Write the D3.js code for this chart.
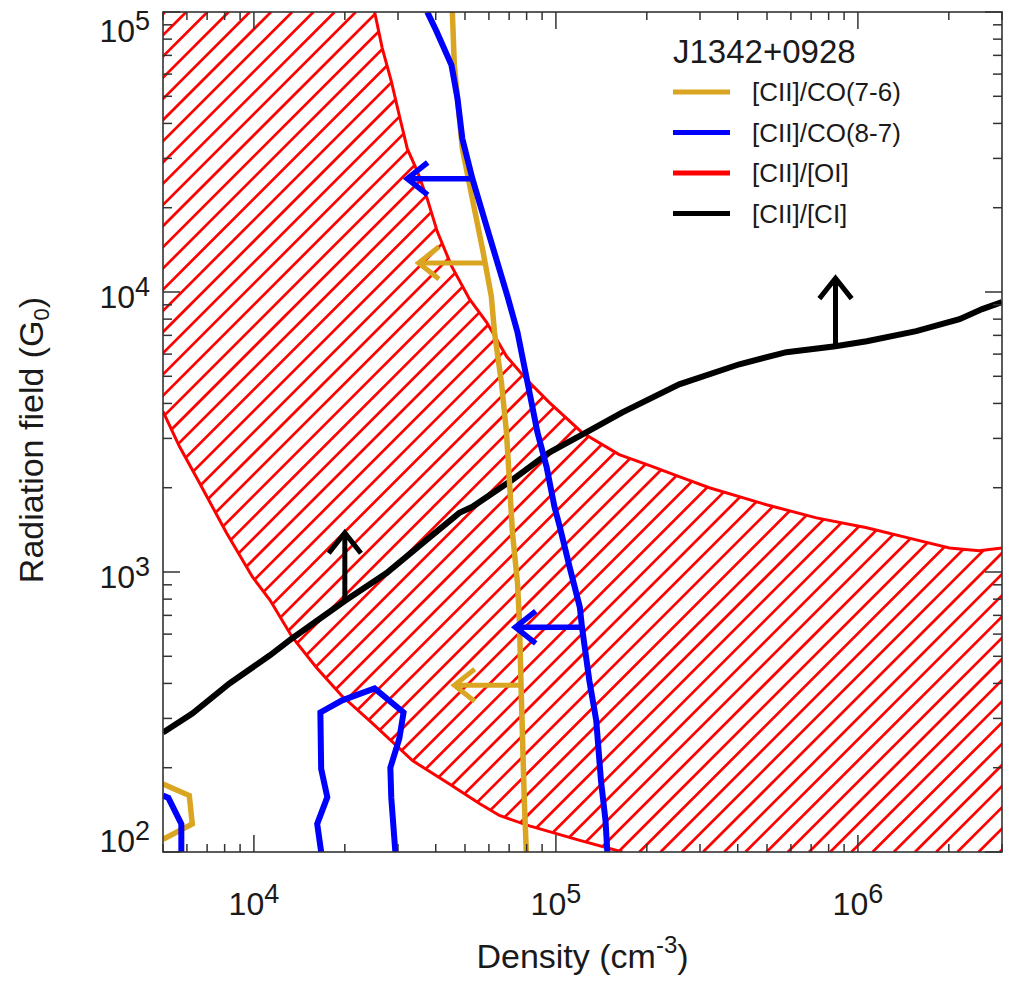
<!DOCTYPE html>
<html>
<head>
<meta charset="utf-8">
<script src="https://cdn.jsdelivr.net/npm/d3@7"></script>
<style>
  body { margin: 0; background: #fff; }
  text { font-family: "Liberation Sans", Helvetica, Arial, sans-serif; fill: #1a1a1a; }
</style>
</head>
<body>
<svg id="chart" width="1021" height="990"></svg>
<script>
// values: density (cm^-3) vs radiation field (G0)

// [CII]/CO(7-6)
const co76Density = [4.54e4, 4.61e4, 4.72e4, 4.90e4, 5.29e4, 5.71e4, 6.11e4, 6.26e4, 6.60e4,
                     6.86e4, 7.02e4, 7.18e4, 7.46e4, 7.57e4, 7.69e4, 7.86e4, 7.98e4];
const co76G0 = [1.0e5, 6.46e4, 4.92e4, 3.25e4, 2.15e4, 1.43e4, 9670, 7190, 4760,
                3150, 2084, 1380, 913, 673, 348, 152, 100];
const co76CornerDensity = [5.0e3, 6.11e3, 6.25e3, 5.0e3];
const co76CornerG0 = [175, 159, 126, 111];
const co76Limits = [[5.89e4, 1.27e4, 3.51e4, 1.27e4], [7.57e4, 394, 4.61e4, 394]];

// [CII]/CO(8-7)
const co87Density = [3.75e4, 4.02e4, 4.51e4, 4.72e4, 4.90e4, 5.29e4, 5.89e4, 6.35e4, 6.91e4,
                     7.46e4, 8.05e4, 8.69e4, 9.31e4, 9.89e4, 1.03e5, 1.11e5, 1.20e5, 1.22e5,
                     1.29e5, 1.36e5, 1.41e5, 1.46e5, 1.48e5];
const co87G0 = [1.0e5, 8.55e4, 6.46e4, 4.92e4, 3.53e4, 2.54e4, 1.72e4, 1.31e4, 9670,
                7190, 4760, 3150, 2378, 1710, 1450, 1042, 749, 635,
                410, 295, 180, 129, 100];
const co87CornerDensity = [5.0e3, 5.21e3, 5.75e3, 5.75e3];
const co87CornerG0 = [159, 156, 126, 100];
const co87LoopDensity = [1.67e4, 1.62e4, 1.75e4, 1.67e4, 1.66e4, 1.96e4, 2.51e4, 3.13e4,
                         3.03e4, 2.83e4, 2.85e4, 2.94e4];
const co87LoopG0 = [100, 126, 157, 198, 315, 348, 384, 315, 254, 200, 156, 100];
const co87Limits = [[5.29e4, 2.54e4, 3.22e4, 2.54e4], [1.22e5, 635, 7.34e4, 635]];

// [CII]/[OI] allowed band: upper and lower edges
const oiUpperDensity = [2.51e4, 2.66e4, 2.85e4, 3.03e4, 3.22e4, 3.48e4, 3.75e4, 4.05e4, 4.51e4,
                        5.17e4, 5.89e4, 6.86e4, 7.98e4, 9.5e4, 1.22e5, 1.62e5, 2.09e5, 2.56e5,
                        3.22e5, 4.98e5, 7.29e5, 1.07e6, 1.56e6, 2.01e6, 2.52e6, 3.0e6];
const oiUpperG0 = [1.0e5, 7.43e4, 5.66e4, 4.27e4, 3.25e4, 2.69e4, 2.15e4, 1.64e4, 1.24e4,
                   9440, 7810, 5895, 4877, 4035, 3150, 2627, 2378, 2190,
                   2000, 1738, 1561, 1438, 1302, 1219, 1190, 1219];
const oiLowerDensity = [5.0e3, 5.67e3, 6.60e3, 8.11e3, 9.89e3, 1.13e4, 1.34e4, 1.61e4, 1.95e4,
                        2.47e4, 3.35e4, 4.44e4, 5.58e4, 6.50e4, 8.17e4, 1.20e5, 1.66e5];
const oiLowerG0 = [3746, 2805, 2084, 1380, 960, 794, 585, 456, 362,
                   288, 212, 175, 149, 135, 124, 110, 100];

// [CII]/[CI]
const ciDensity = [5.0e3, 6.25e3, 8.3e3, 1.13e4, 1.34e4, 2.02e4, 2.75e4, 3.73e4, 4.79e4, 5.29e4,
                   7.18e4, 9.5e4, 1.26e5, 1.66e5, 2.56e5, 4.05e5, 5.8e5, 8.43e5, 1.07e6,
                   1.56e6, 2.17e6, 2.58e6, 3.0e6];
const ciG0 = [267, 312, 400, 504, 580, 794, 992, 1303, 1627, 1710,
              2136, 2670, 3150, 3715, 4680, 5520, 6095, 6400, 6670,
              7250, 8000, 8690, 9210];
const ciLimits = [[2.0e4, 794, 2.0e4, 1380], [8.43e5, 6400, 8.43e5, 1.12e4]];

const legendTitle = "J1342+0928";
const legendLabels = ["[CII]/CO(7-6)", "[CII]/CO(8-7)", "[CII]/[OI]", "[CII]/[CI]"];
const legendColors = ["#DAA520", "#0000FF", "#FF0000", "#000000"];

const xMajor = [1e4, 1e5, 1e6];
const yMajor = [1e2, 1e3, 1e4, 1e5];

const svg = d3.select('#chart');
const plot = {left: 163, right: 1002, top: 12, bottom: 852};

const x = d3.scaleLog().domain([5e3, 3e6]).range([plot.left, plot.right]);
const y = d3.scaleLog().domain([1e2, 1e5]).range([plot.bottom, plot.top]);

let line = d3.line().x(d => x(d[0])).y(d => y(d[1]));

// band polygon: top-left corner, along upper edge, down right side, back along lower edge
let xd = x.domain(), yd = y.domain();
let upper = d3.zip(oiUpperDensity, oiUpperG0);
let lower = d3.zip(oiLowerDensity, oiLowerG0);
let band = [[xd[0], yd[1]]].concat(upper, [[xd[1], yd[0]]], lower.slice().reverse());

const defs = svg.append('defs');
defs.append('clipPath').attr('id', 'clip')
    .append('rect')
    .attr('x', plot.left).attr('y', plot.top)
    .attr('width', plot.right - plot.left).attr('height', plot.bottom - plot.top);
defs.append('clipPath').attr('id', 'bandClip')
    .append('path')
    .attr('d', line(band) + 'Z');

let g = svg.append('g').attr('clip-path', 'url(#clip)');

// diagonal hatching of the band ("/" lines, x + y = const)
let step = 21.2, phase = 177;
let hatch = g.append('g').attr('clip-path', 'url(#bandClip)')
    .attr('stroke', '#FF0000').attr('stroke-width', 2.7);
let cStart = phase - step * Math.ceil((phase - plot.left - plot.top) / step);
for (let c = cStart; c <= plot.right + plot.bottom + step; c += step) {
    hatch.append('line')
        .attr('x1', c - plot.bottom).attr('y1', plot.bottom)
        .attr('x2', c - plot.top).attr('y2', plot.top);
}

[upper, lower].forEach(function(edge) {
    g.append('path')
        .attr('d', line(edge))
        .attr('fill', 'none')
        .attr('stroke', '#FF0000')
        .attr('stroke-width', 3);
});

function drawCurve(xs, ys, color, width) {
    g.append('path')
        .attr('d', line(d3.zip(xs, ys)))
        .attr('fill', 'none')
        .attr('stroke', color)
        .attr('stroke-width', width)
        .attr('stroke-linejoin', 'miter');
}

function drawArrows(limits, color, width) {
    limits.forEach(function(a) {
        let x0 = x(a[0]), y0 = y(a[1]), x1 = x(a[2]), y1 = y(a[3]);
        let ang = Math.atan2(y1 - y0, x1 - x0);
        let len = 26, spread = 0.67;
        let p1 = [x1 - len * Math.cos(ang - spread), y1 - len * Math.sin(ang - spread)];
        let p2 = [x1 - len * Math.cos(ang + spread), y1 - len * Math.sin(ang + spread)];
        g.append('path')
            .attr('d', `M${x0},${y0} L${x1},${y1}`)
            .attr('stroke', color).attr('stroke-width', width);
        g.append('path')
            .attr('d', `M${p1[0]},${p1[1]} L${x1},${y1} L${p2[0]},${p2[1]}`)
            .attr('fill', 'none')
            .attr('stroke', color).attr('stroke-width', width);
    });
}

drawCurve(ciDensity, ciG0, '#000000', 6);
drawArrows(ciLimits, '#000000', 5);

drawCurve(co76Density, co76G0, '#DAA520', 5.5);
drawCurve(co76CornerDensity, co76CornerG0, '#DAA520', 5.5);
drawArrows(co76Limits, '#DAA520', 5);

drawCurve(co87Density, co87G0, '#0000FF', 6);
drawCurve(co87CornerDensity, co87CornerG0, '#0000FF', 6);
drawCurve(co87LoopDensity, co87LoopG0, '#0000FF', 6);
drawArrows(co87Limits, '#0000FF', 5.5);

// frame and ticks on all four sides
let axisColor = '#333';
svg.append('rect')
    .attr('x', plot.left).attr('y', plot.top)
    .attr('width', plot.right - plot.left).attr('height', plot.bottom - plot.top)
    .attr('fill', 'none').attr('stroke', axisColor).attr('stroke-width', 1.6);

function isMajor(v) { return Math.abs(Math.log10(v) - Math.round(Math.log10(v))) < 1e-6; }

let ticks = svg.append('g').attr('stroke', axisColor).attr('stroke-width', 1.5);
x.ticks().forEach(function(v) {
    let len = isMajor(v) ? 17 : 8;
    let px = x(v);
    ticks.append('line').attr('x1', px).attr('x2', px).attr('y1', plot.bottom).attr('y2', plot.bottom - len);
    ticks.append('line').attr('x1', px).attr('x2', px).attr('y1', plot.top).attr('y2', plot.top + len);
});
y.ticks().forEach(function(v) {
    let len = isMajor(v) ? 17 : 9;
    let py = y(v);
    ticks.append('line').attr('y1', py).attr('y2', py).attr('x1', plot.left).attr('x2', plot.left + len);
    ticks.append('line').attr('y1', py).attr('y2', py).attr('x1', plot.right).attr('x2', plot.right - len);
});

// tick labels: 10 with superscript exponent
xMajor.forEach(function(v) {
    let t = svg.append('text')
        .attr('x', x(v)).attr('y', 915)
        .attr('text-anchor', 'middle')
        .attr('font-size', 32);
    t.append('tspan').text('10');
    t.append('tspan').attr('dy', -12).attr('font-size', 27).text(Math.round(Math.log10(v)));
});
yMajor.forEach(function(v) {
    // labels are kept inside the vertical extent of the axis
    let base = Math.min(Math.max(y(v) + 16, plot.top + 30), plot.bottom);
    let t = svg.append('text')
        .attr('x', 150).attr('y', base)
        .attr('text-anchor', 'end')
        .attr('font-size', 32);
    t.append('tspan').text('10');
    t.append('tspan').attr('dy', -12).attr('font-size', 27).text(Math.round(Math.log10(v)));
});

// axis titles
let xt = svg.append('text')
    .attr('x', (plot.left + plot.right) / 2).attr('y', 968)
    .attr('text-anchor', 'middle')
    .attr('font-size', 34);
xt.append('tspan').text('Density (cm');
xt.append('tspan').attr('dy', -15).attr('font-size', 24).text('-3');
xt.append('tspan').attr('dy', 15).text(')');

let yt = svg.append('text')
    .attr('transform', 'translate(43,440) rotate(-90)')
    .attr('text-anchor', 'middle')
    .attr('font-size', 34);
yt.append('tspan').text('Radiation field (G');
yt.append('tspan').attr('dy', 6).attr('font-size', 22).text('0');
yt.append('tspan').attr('dy', -6).text(')');

// legend
let legend = svg.append('g');
legend.append('text')
    .attr('x', 673).attr('y', 63)
    .attr('font-size', 33)
    .text(legendTitle);
legendLabels.forEach(function(label, i) {
    let ly = 92 + i * 40.5;
    legend.append('line')
        .attr('x1', 673).attr('x2', 730).attr('y1', ly).attr('y2', ly)
        .attr('stroke', legendColors[i]).attr('stroke-width', 5);
    legend.append('text')
        .attr('x', 752).attr('y', ly + 9)
        .attr('font-size', 26)
        .text(label);
});
</script>
</body>
</html>
